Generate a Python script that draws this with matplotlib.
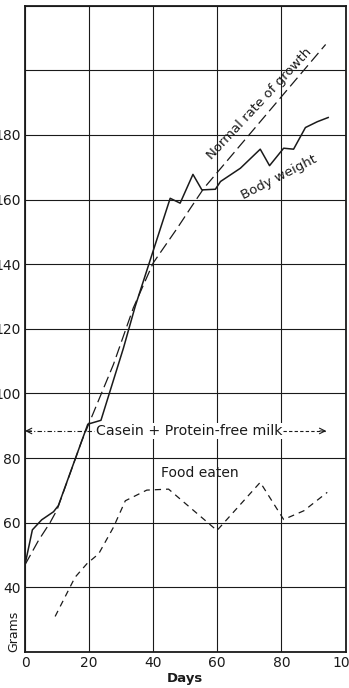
import matplotlib
matplotlib.use("Agg")
import matplotlib.pyplot as plt

# Growth on casein + protein-free milk
weight_days = [0, 2.3, 5.2, 8.9, 10.4, 19.6, 23.7, 30.7, 34.4, 45.3, 48.4, 52.4,
               55.2, 59.4, 61.0, 67.2, 73.4, 76.3, 80.7, 83.8, 87.5, 91.2, 94.6]
weight_g = [47, 57.8, 60.9, 63.4, 65.3, 90.5, 91.7, 114, 127, 160.4, 158.9, 167.8,
            163, 163.2, 165.6, 169.7, 175.6, 170.5, 175.9, 175.6, 182.3, 184.1, 185.4]

normal_days = [0, 4.2, 7.8, 10, 17.7, 27.6, 33.8, 40, 47.4, 51.6, 55.8, 93.8]
normal_g = [47, 54.5, 60, 64, 85.3, 109, 126.5, 140.4, 151, 157.3, 163.5, 208]

food_days = [9.4, 15.6, 19.3, 23.0, 27.6, 31.3, 38.0, 44.8, 59.9, 73.4, 80.7, 87.0, 94.3]
food_g = [31, 43.1, 47.3, 50.4, 58.6, 66.8, 70.1, 70.4, 57.6, 72.5, 61.0, 63.7, 69.4]

diet_level = 88.4
diet_span = (0, 94)
diet_label = "Casein + Protein-free milk"

x_ticks = [0, 20, 40, 60, 80, 100]
y_ticks = [20, 40, 60, 80, 100, 120, 140, 160, 180, 200, 220]
y_tick_labels = ["", "40", "60", "80", "100", "120", "140", "160", "180", "", ""]

ink = "#1a1a1a"
plt.rcParams["font.family"] = ["DejaVu Sans"]

fig = plt.figure(figsize=(3.49, 6.88), dpi=100)
ax = fig.add_axes([25 / 349, 1 - 652 / 688, 320.5 / 349, 646.3 / 688])

ax.set_xlim(0, 100)
ax.set_ylim(20, 220)
ax.set_xticks(x_ticks)
ax.set_yticks(y_ticks)
ax.set_yticklabels(y_tick_labels)
ax.tick_params(length=0, labelsize=10, colors=ink, pad=3)
ax.grid(True, color=ink, lw=0.8)
ax.set_axisbelow(True)
for s in ax.spines.values():
    s.set_color(ink)
    s.set_linewidth(1.3)

ax.plot(weight_days, weight_g, color=ink, lw=1.1)
ax.plot(normal_days, normal_g, color=ink, lw=0.9, dashes=(9, 4))
ax.plot(food_days, food_g, color=ink, lw=0.9, dashes=(5, 4))

# diet period marker
ax.plot([diet_span[0] + 0.5, 21.5], [diet_level, diet_level], color=ink, lw=0.8,
        dashes=(4, 2, 1, 2))
ax.plot([80.5, diet_span[1]], [diet_level, diet_level], color=ink, lw=0.8, dashes=(3, 2))
ax.annotate("", xy=(diet_span[0], diet_level), xytext=(diet_span[0] + 2, diet_level),
            arrowprops=dict(arrowstyle="->", lw=0.8, color=ink, shrinkA=0, shrinkB=0))
ax.annotate("", xy=(diet_span[1], diet_level), xytext=(diet_span[1] - 2, diet_level),
            arrowprops=dict(arrowstyle="->", lw=0.8, color=ink, shrinkA=0, shrinkB=0))
ax.text(51.2, diet_level, diet_label, ha="center", va="center", fontsize=10.2, color=ink,
        bbox=dict(facecolor="white", edgecolor="none", pad=0.5))

ax.text(73.2, 189.5, "Normal rate of growth", rotation=47, ha="center", va="center",
        fontsize=9.5, color=ink, rotation_mode="anchor")
ax.text(79.4, 167, "Body weight", rotation=27, ha="center", va="center",
        fontsize=9.5, color=ink, rotation_mode="anchor")
ax.text(54.5, 75.4, "Food eaten", ha="center", va="center", fontsize=10, color=ink)

ax.text(-3.4, 26.5, "Grams", rotation=90, ha="center", va="center", fontsize=9,
        color=ink, clip_on=False)
ax.set_xlabel("Days", fontsize=9.5, fontweight="bold", color=ink, labelpad=1)

fig.savefig("out.png", dpi=100)
